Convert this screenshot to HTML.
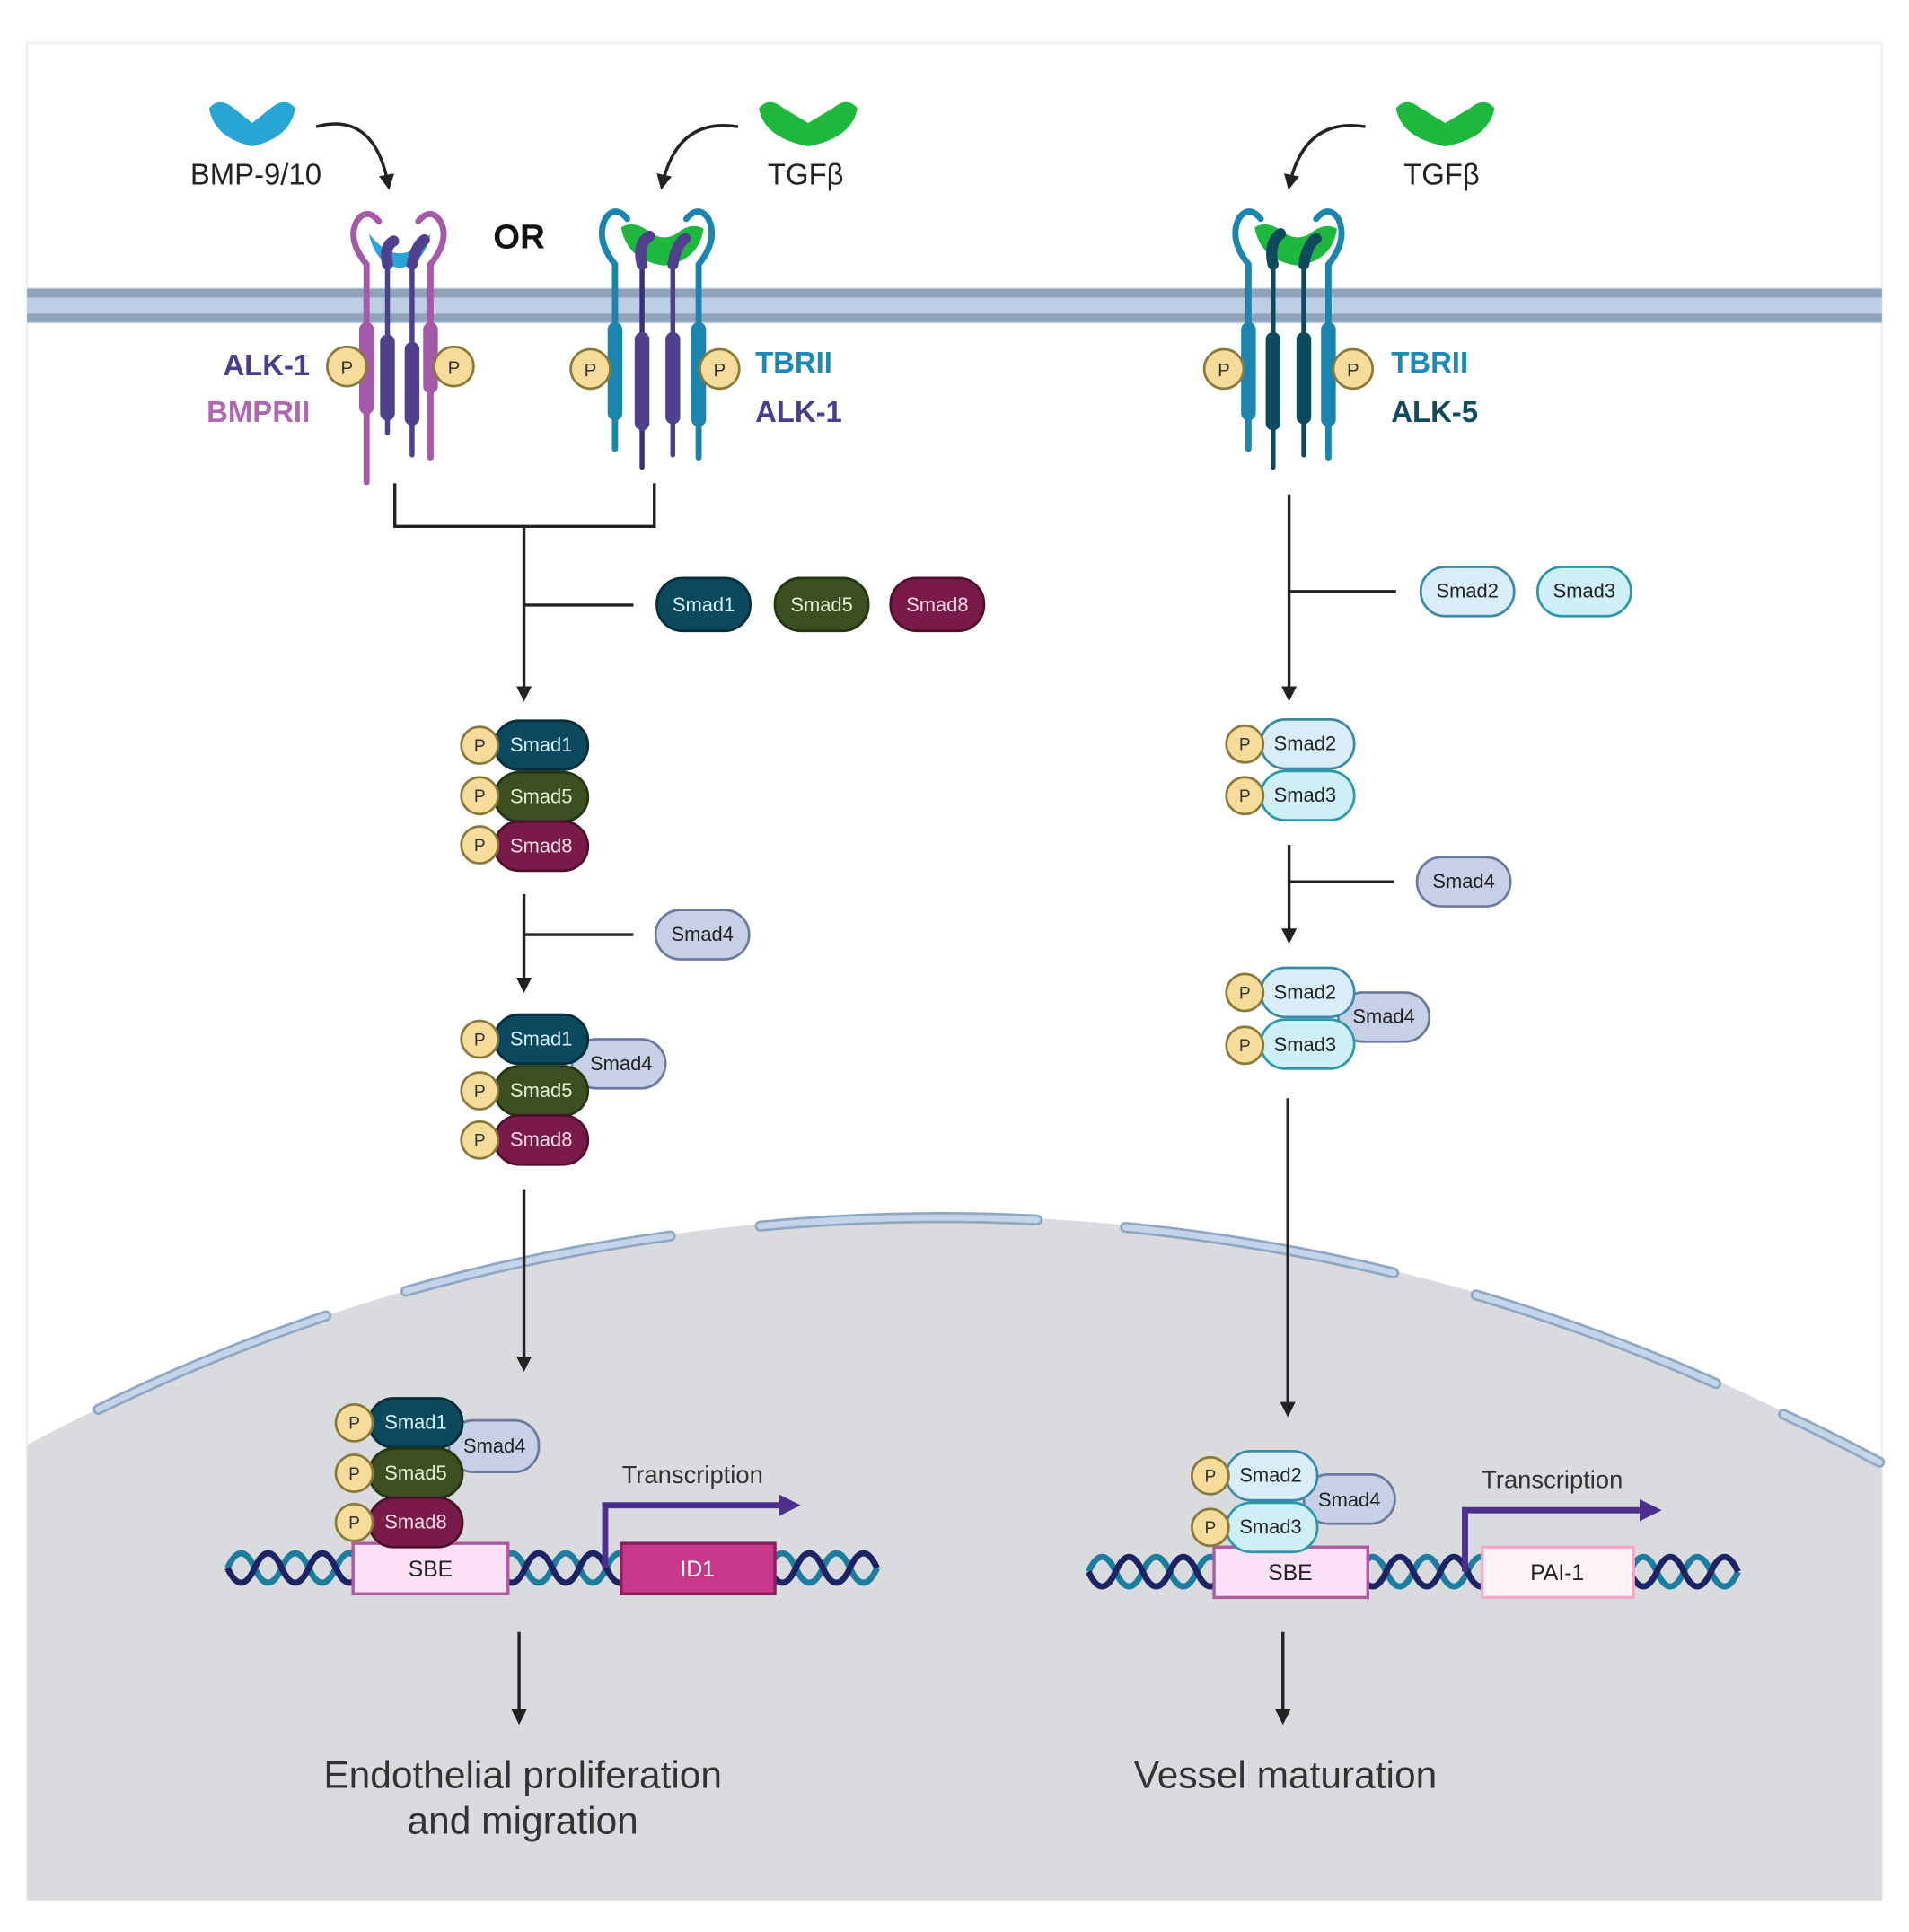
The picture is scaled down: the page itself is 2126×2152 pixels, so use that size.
<!DOCTYPE html>
<html><head><meta charset="utf-8"><style>
html,body{margin:0;padding:0;background:#fff}
svg{display:block}
text{font-family:"Liberation Sans",sans-serif}
</style></head><body>
<svg width="2126" height="2152" viewBox="0 0 1552 1571" xmlns="http://www.w3.org/2000/svg">
<defs>
<marker id="ah" viewBox="0 0 10 10" refX="8" refY="5" markerWidth="5" markerHeight="5" orient="auto"><path d="M0,0 L10,5 L0,10 Z" fill="#222"/></marker>
<marker id="ahp" viewBox="0 0 10 10" refX="5" refY="5" markerWidth="3.6" markerHeight="3.6" orient="auto"><path d="M0,0 L10,5 L0,10 Z" fill="#4b2f8a"/></marker>
</defs>
<rect x="0" y="0" width="1552" height="1571" fill="#fff"/>
<rect x="22" y="35" width="1508" height="1510" fill="none" stroke="#f0f0f0" stroke-width="2"/>
<!-- nucleus -->
<path d="M22,1175 A1564,1564 0 0 1 1530,1190 L1530,1545 L22,1545 Z" fill="#d9dbdf"/>
<g fill="none" stroke-linecap="round">
<g stroke="#8ea8c4" stroke-width="9">
<path d="M80,1146 A1564,1564 0 0 1 265,1070"/><path d="M330,1050 A1564,1564 0 0 1 545,1005"/>
<path d="M618,997 A1564,1564 0 0 1 843,992"/><path d="M915,998 A1564,1564 0 0 1 1133,1035"/>
<path d="M1200,1053 A1564,1564 0 0 1 1395,1125"/><path d="M1450,1150 A1564,1564 0 0 1 1528,1189"/>
</g>
<g stroke="#c4d5ea" stroke-width="5">
<path d="M80,1146 A1564,1564 0 0 1 265,1070"/><path d="M330,1050 A1564,1564 0 0 1 545,1005"/>
<path d="M618,997 A1564,1564 0 0 1 843,992"/><path d="M915,998 A1564,1564 0 0 1 1133,1035"/>
<path d="M1200,1053 A1564,1564 0 0 1 1395,1125"/><path d="M1450,1150 A1564,1564 0 0 1 1528,1189"/>
</g>
</g>
<!-- membrane -->
<rect x="22" y="234" width="1508" height="29" fill="#bccde4"/>
<rect x="22" y="235" width="1508" height="7" fill="#8fa3ba"/>
<rect x="22" y="255" width="1508" height="7" fill="#8fa3ba"/>

<!-- ligands top -->
<path d="M170,88 Q178,78 190,88 L205,100 L220,88 Q232,78 240,88 Q236,112 205,119 Q174,112 170,88 Z" fill="#27a6d6"/>
<path d="M617,88 Q625,78 637,88 L657,100 L677,88 Q689,78 697,88 Q693,112 657,119 Q621,112 617,88 Z" fill="#1fb83e"/>
<path d="M1135,88 Q1143,78 1155,88 L1175,100 L1195,88 Q1207,78 1215,88 Q1211,112 1175,119 Q1139,112 1135,88 Z" fill="#1fb83e"/>
<text x="208" y="150" font-size="24" text-anchor="middle" fill="#222">BMP-9/10</text>
<text x="655" y="150" font-size="24" text-anchor="middle" fill="#222">TGFβ</text>
<text x="1172" y="150" font-size="24" text-anchor="middle" fill="#222">TGFβ</text>
<g fill="none" stroke="#222" stroke-width="2.5">
<path d="M257,103 Q305,90 316,152" marker-end="url(#ah)"/>
<path d="M600,103 Q550,95 538,152" marker-end="url(#ah)"/>
<path d="M1110,103 Q1060,95 1048,152" marker-end="url(#ah)"/>
</g>
<text x="422" y="202" font-size="28" font-weight="bold" text-anchor="middle" fill="#111">OR</text>

<!-- left receptor complex -->
<g stroke-linecap="round" fill="none">
<path d="M298,392 L298,215 Q282,195 290,180 Q298,168 308,180" stroke="#a55aa9" stroke-width="5"/>
<path d="M350,372 L350,215 Q366,195 358,180 Q350,168 340,180" stroke="#a55aa9" stroke-width="5"/>
<path d="M315,352 L315,210" stroke="#4f3f8c" stroke-width="4"/>
<path d="M335,370 L335,210" stroke="#4f3f8c" stroke-width="4"/>
</g>
<path d="M300,190 Q325,222 350,190 Q345,215 325,218 Q305,215 300,190Z" fill="#27a6d6"/>
<path d="M315,215 Q312,200 320,196" stroke="#4f3f8c" stroke-width="9" fill="none" stroke-linecap="round"/>
<path d="M335,215 Q338,200 345,195" stroke="#4f3f8c" stroke-width="9" fill="none" stroke-linecap="round"/>
<rect x="292" y="262" width="12" height="75" rx="6" fill="#a55aa9"/>
<rect x="344" y="262" width="12" height="58" rx="6" fill="#a55aa9"/>
<rect x="309" y="272" width="12" height="70" rx="6" fill="#4f3f8c"/>
<rect x="329" y="278" width="12" height="68" rx="6" fill="#4f3f8c"/>
<circle cx="282" cy="298" r="16" fill="#f6dc9b" stroke="#8a7a3a" stroke-width="2"/><text x="282" y="304" font-size="15" text-anchor="middle" fill="#333">P</text>
<circle cx="369" cy="298" r="16" fill="#f6dc9b" stroke="#8a7a3a" stroke-width="2"/><text x="369" y="304" font-size="15" text-anchor="middle" fill="#333">P</text>
<text x="252" y="305" font-size="24" font-weight="bold" text-anchor="end" fill="#4a3d8f">ALK-1</text>
<text x="252" y="343" font-size="24" font-weight="bold" text-anchor="end" fill="#b067b0">BMPRII</text>

<!-- middle receptor complex -->
<g stroke-linecap="round" fill="none">
<path d="M500,365 L500,215 Q484,195 492,178 Q500,166 510,178" stroke="#1a86b0" stroke-width="5"/>
<path d="M568,372 L568,215 Q584,195 576,178 Q568,166 558,178" stroke="#1a86b0" stroke-width="5"/>
<path d="M522,380 L522,210" stroke="#3a2f7a" stroke-width="4"/>
<path d="M547,370 L547,210" stroke="#4f3f8c" stroke-width="4"/>
</g>
<path d="M505,185 Q515,178 530,190 Q540,196 550,190 Q562,180 572,186 Q568,212 540,216 Q510,212 505,185Z" fill="#1fb83e"/>
<path d="M522,215 Q518,198 528,192" stroke="#4f3f8c" stroke-width="9" fill="none" stroke-linecap="round"/>
<path d="M547,215 Q550,198 557,194" stroke="#4f3f8c" stroke-width="9" fill="none" stroke-linecap="round"/>
<rect x="494" y="262" width="12" height="80" rx="6" fill="#1a86b0"/>
<rect x="562" y="262" width="12" height="85" rx="6" fill="#1a86b0"/>
<rect x="516" y="270" width="12" height="80" rx="6" fill="#4f3f8c"/>
<rect x="541" y="270" width="12" height="75" rx="6" fill="#4f3f8c"/>
<circle cx="480" cy="300" r="16" fill="#f6dc9b" stroke="#8a7a3a" stroke-width="2"/><text x="480" y="306" font-size="15" text-anchor="middle" fill="#333">P</text>
<circle cx="585" cy="300" r="16" fill="#f6dc9b" stroke="#8a7a3a" stroke-width="2"/><text x="585" y="306" font-size="15" text-anchor="middle" fill="#333">P</text>
<text x="614" y="303" font-size="24" font-weight="bold" fill="#1a8ab8">TBRII</text>
<text x="614" y="343" font-size="24" font-weight="bold" fill="#4a3d8f">ALK-1</text>

<!-- right receptor complex -->
<g stroke-linecap="round" fill="none">
<path d="M1015,365 L1015,215 Q999,195 1007,178 Q1015,166 1025,178" stroke="#1a86b0" stroke-width="5"/>
<path d="M1080,372 L1080,215 Q1096,195 1088,178 Q1080,166 1070,178" stroke="#1a86b0" stroke-width="5"/>
<path d="M1035,380 L1035,210" stroke="#0e4a5e" stroke-width="4"/>
<path d="M1060,370 L1060,210" stroke="#0e4a5e" stroke-width="4"/>
</g>
<path d="M1020,185 Q1030,178 1045,190 Q1055,196 1065,190 Q1077,180 1087,186 Q1083,212 1055,216 Q1025,212 1020,185Z" fill="#1fb83e"/>
<path d="M1035,215 Q1031,198 1041,190" stroke="#0e4a5e" stroke-width="9" fill="none" stroke-linecap="round"/>
<path d="M1060,215 Q1063,198 1070,194" stroke="#0e4a5e" stroke-width="9" fill="none" stroke-linecap="round"/>
<rect x="1009" y="262" width="12" height="80" rx="6" fill="#1a86b0"/>
<rect x="1074" y="262" width="12" height="85" rx="6" fill="#1a86b0"/>
<rect x="1029" y="270" width="12" height="80" rx="6" fill="#0e4a5e"/>
<rect x="1054" y="270" width="12" height="75" rx="6" fill="#0e4a5e"/>
<circle cx="995" cy="300" r="16" fill="#f6dc9b" stroke="#8a7a3a" stroke-width="2"/><text x="995" y="306" font-size="15" text-anchor="middle" fill="#333">P</text>
<circle cx="1100" cy="300" r="16" fill="#f6dc9b" stroke="#8a7a3a" stroke-width="2"/><text x="1100" y="306" font-size="15" text-anchor="middle" fill="#333">P</text>
<text x="1131" y="303" font-size="24" font-weight="bold" fill="#1a8ab8">TBRII</text>
<text x="1131" y="343" font-size="24" font-weight="bold" fill="#0e4b5f">ALK-5</text>

<!-- connectors -->
<g fill="none" stroke="#222" stroke-width="2.5">
<path d="M321,393 L321,428 L532,428 L532,393"/>
<path d="M426,428 L426,568" marker-end="url(#ah)"/>
<path d="M426,492 L515,492"/>
<path d="M426,727 L426,805" marker-end="url(#ah)"/>
<path d="M426,760 L515,760"/>
<path d="M426,967 L426,1113" marker-end="url(#ah)"/>
<path d="M422,1327 L422,1400" marker-end="url(#ah)"/>
<path d="M1048,402 L1048,568" marker-end="url(#ah)"/>
<path d="M1048,481 L1135,481"/>
<path d="M1048,687 L1048,765" marker-end="url(#ah)"/>
<path d="M1048,717 L1133,717"/>
<path d="M1047,893 L1047,1150" marker-end="url(#ah)"/>
<path d="M1043,1327 L1043,1400" marker-end="url(#ah)"/>
</g>

<g font-size="16" text-anchor="middle">
<!-- free smads left -->
<rect x="534" y="470" width="76" height="43" rx="21" fill="#0b4a5e" stroke="#062e3a" stroke-width="2"/><text x="572" y="497" fill="#d7f0f8">Smad1</text>
<rect x="630" y="470" width="76" height="43" rx="21" fill="#3b4f20" stroke="#253412" stroke-width="2"/><text x="668" y="497" fill="#e3f0cf">Smad5</text>
<rect x="724" y="470" width="76" height="43" rx="21" fill="#7a1a48" stroke="#4d0f2c" stroke-width="2"/><text x="762" y="497" fill="#f8d9e8">Smad8</text>

<!-- stack 1 -->
<rect x="402" y="586" width="76" height="40" rx="20" fill="#0b4a5e" stroke="#062e3a" stroke-width="2"/><text x="440" y="611" fill="#d7f0f8">Smad1</text>
<rect x="402" y="628" width="76" height="40" rx="20" fill="#3b4f20" stroke="#253412" stroke-width="2"/><text x="440" y="653" fill="#e3f0cf">Smad5</text>
<rect x="402" y="668" width="76" height="40" rx="20" fill="#7a1a48" stroke="#4d0f2c" stroke-width="2"/><text x="440" y="693" fill="#f8d9e8">Smad8</text>

<rect x="533" y="740" width="76" height="40" rx="20" fill="#c8d0e8" stroke="#6d7aa0" stroke-width="2"/><text x="571" y="765" fill="#222">Smad4</text>

<!-- stack 2 -->
<rect x="465" y="845" width="76" height="40" rx="20" fill="#c8d0e8" stroke="#6d7aa0" stroke-width="2"/><text x="505" y="870" fill="#222">Smad4</text>
<rect x="402" y="825" width="76" height="40" rx="20" fill="#0b4a5e" stroke="#062e3a" stroke-width="2"/><text x="440" y="850" fill="#d7f0f8">Smad1</text>
<rect x="402" y="867" width="76" height="40" rx="20" fill="#3b4f20" stroke="#253412" stroke-width="2"/><text x="440" y="892" fill="#e3f0cf">Smad5</text>
<rect x="402" y="907" width="76" height="40" rx="20" fill="#7a1a48" stroke="#4d0f2c" stroke-width="2"/><text x="440" y="932" fill="#f8d9e8">Smad8</text>

<!-- right free smads -->
<rect x="1155" y="461" width="76" height="40" rx="20" fill="#d8edf8" stroke="#3c8aaa" stroke-width="2"/><text x="1193" y="486" fill="#222">Smad2</text>
<rect x="1250" y="461" width="76" height="40" rx="20" fill="#cdeff5" stroke="#2a9aaa" stroke-width="2"/><text x="1288" y="486" fill="#222">Smad3</text>
<rect x="1025" y="585" width="76" height="40" rx="20" fill="#d8edf8" stroke="#3c8aaa" stroke-width="2"/><text x="1061" y="610" fill="#222">Smad2</text>
<rect x="1025" y="627" width="76" height="40" rx="20" fill="#cdeff5" stroke="#2a9aaa" stroke-width="2"/><text x="1061" y="652" fill="#222">Smad3</text>
<rect x="1152" y="697" width="76" height="40" rx="20" fill="#c8d0e8" stroke="#6d7aa0" stroke-width="2"/><text x="1190" y="722" fill="#222">Smad4</text>
<rect x="1088" y="807" width="74" height="40" rx="20" fill="#c8d0e8" stroke="#6d7aa0" stroke-width="2"/><text x="1125" y="832" fill="#222">Smad4</text>
<rect x="1025" y="787" width="76" height="40" rx="20" fill="#d8edf8" stroke="#3c8aaa" stroke-width="2"/><text x="1061" y="812" fill="#222">Smad2</text>
<rect x="1025" y="829" width="76" height="40" rx="20" fill="#cdeff5" stroke="#2a9aaa" stroke-width="2"/><text x="1061" y="855" fill="#222">Smad3</text>
</g>

<!-- DNA left -->
<g fill="none" stroke-width="5">
<path d="M185,1275 q11,-24 22,0 t22,0 t22,0 t22,0 t22,0 t22,0 t22,0 t22,0 t22,0 t22,0 t22,0 t22,0 t22,0 t22,0 t22,0 t22,0 t22,0 t22,0 t22,0 t22,0 t22,0 t22,0 t22,0 t22,0" stroke="#1b7da0"/>
<path d="M185,1275 q11,24 22,0 t22,0 t22,0 t22,0 t22,0 t22,0 t22,0 t22,0 t22,0 t22,0 t22,0 t22,0 t22,0 t22,0 t22,0 t22,0 t22,0 t22,0 t22,0 t22,0 t22,0 t22,0 t22,0 t22,0" stroke="#1c2466"/>
<path d="M885,1278 q11,-24 22,0 t22,0 t22,0 t22,0 t22,0 t22,0 t22,0 t22,0 t22,0 t22,0 t22,0 t22,0 t22,0 t22,0 t22,0 t22,0 t22,0 t22,0 t22,0 t22,0 t22,0 t22,0 t22,0 t22,0" stroke="#1b7da0"/>
<path d="M885,1278 q11,24 22,0 t22,0 t22,0 t22,0 t22,0 t22,0 t22,0 t22,0 t22,0 t22,0 t22,0 t22,0 t22,0 t22,0 t22,0 t22,0 t22,0 t22,0 t22,0 t22,0 t22,0 t22,0 t22,0 t22,0" stroke="#1c2466"/>
</g>
<!-- transcription arrows -->
<path d="M492,1275 L492,1224 L642,1224" fill="none" stroke="#4b2f8a" stroke-width="5" marker-end="url(#ahp)"/>
<path d="M1191,1278 L1191,1228 L1342,1228" fill="none" stroke="#4b2f8a" stroke-width="5" marker-end="url(#ahp)"/>
<text x="563" y="1206" font-size="20" text-anchor="middle" fill="#333">Transcription</text>
<text x="1262" y="1210" font-size="20" text-anchor="middle" fill="#333">Transcription</text>

<g font-size="18" text-anchor="middle">
<rect x="287" y="1255" width="126" height="41" fill="#fbe0f7" stroke="#b05aa0" stroke-width="2.5"/><text x="350" y="1282" fill="#222">SBE</text>
<rect x="505" y="1255" width="125" height="41" fill="#c8388a" stroke="#8a1f5a" stroke-width="2.5"/><text x="567" y="1282" fill="#fff">ID1</text>
<rect x="987" y="1258" width="125" height="41" fill="#fbe0f7" stroke="#b05aa0" stroke-width="2.5"/><text x="1049" y="1285" fill="#222">SBE</text>
<rect x="1205" y="1258" width="123" height="41" fill="#fff2f7" stroke="#f2a8c6" stroke-width="2.5"/><text x="1266" y="1285" fill="#222">PAI-1</text>
</g>

<g font-size="16" text-anchor="middle">
<!-- nuclear left stack -->
<rect x="365" y="1155" width="73" height="42" rx="20" fill="#c8d0e8" stroke="#6d7aa0" stroke-width="2"/><text x="402" y="1181" fill="#222">Smad4</text>
<rect x="300" y="1137" width="76" height="40" rx="20" fill="#0b4a5e" stroke="#062e3a" stroke-width="2"/><text x="338" y="1162" fill="#d7f0f8">Smad1</text>
<rect x="300" y="1178" width="76" height="40" rx="20" fill="#3b4f20" stroke="#253412" stroke-width="2"/><text x="338" y="1203" fill="#e3f0cf">Smad5</text>
<rect x="300" y="1218" width="76" height="40" rx="20" fill="#7a1a48" stroke="#4d0f2c" stroke-width="2"/><text x="338" y="1243" fill="#f8d9e8">Smad8</text>
<!-- nuclear right stack -->
<rect x="1060" y="1199" width="74" height="40" rx="20" fill="#c8d0e8" stroke="#6d7aa0" stroke-width="2"/><text x="1097" y="1225" fill="#222">Smad4</text>
<rect x="997" y="1180" width="74" height="40" rx="20" fill="#d8edf8" stroke="#3c8aaa" stroke-width="2"/><text x="1033" y="1205" fill="#222">Smad2</text>
<rect x="997" y="1222" width="74" height="40" rx="20" fill="#cdeff5" stroke="#2a9aaa" stroke-width="2"/><text x="1033" y="1247" fill="#222">Smad3</text>
</g>

<!-- P circles -->
<g fill="#f6dc9b" stroke="#8a7a3a" stroke-width="2">
<circle cx="390" cy="606" r="15"/><circle cx="390" cy="647" r="15"/><circle cx="390" cy="687" r="15"/>
<circle cx="390" cy="845" r="15"/><circle cx="390" cy="887" r="15"/><circle cx="390" cy="927" r="15"/>
<circle cx="288" cy="1157" r="15"/><circle cx="288" cy="1198" r="15"/><circle cx="288" cy="1238" r="15"/>
<circle cx="1012" cy="605" r="15"/><circle cx="1012" cy="647" r="15"/>
<circle cx="1012" cy="807" r="15"/><circle cx="1012" cy="850" r="15"/>
<circle cx="984" cy="1200" r="15"/><circle cx="984" cy="1242" r="15"/>
</g>
<g font-size="14" text-anchor="middle" fill="#333">
<text x="390" y="611">P</text><text x="390" y="652">P</text><text x="390" y="692">P</text>
<text x="390" y="850">P</text><text x="390" y="892">P</text><text x="390" y="932">P</text>
<text x="288" y="1162">P</text><text x="288" y="1203">P</text><text x="288" y="1243">P</text>
<text x="1012" y="610">P</text><text x="1012" y="652">P</text>
<text x="1012" y="812">P</text><text x="1012" y="855">P</text>
<text x="984" y="1205">P</text><text x="984" y="1247">P</text>
</g>

<g font-size="31" text-anchor="middle" fill="#333">
<text x="425" y="1454">Endothelial proliferation</text>
<text x="425" y="1491">and migration</text>
<text x="1045" y="1454">Vessel maturation</text>
</g>
</svg>
</body></html>
